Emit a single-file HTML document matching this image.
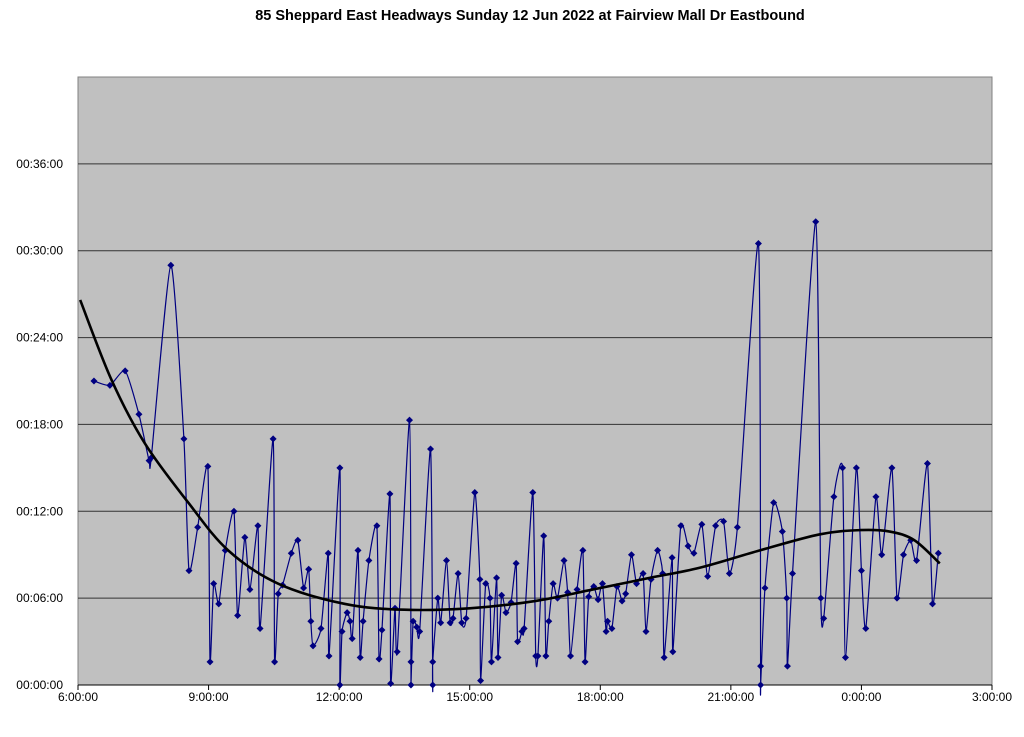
<!DOCTYPE html>
<html><head><meta charset="utf-8"><style>
body{margin:0;background:#fff;font-family:"Liberation Sans",sans-serif}
svg text{font-family:"Liberation Sans",sans-serif}
</style></head><body>
<svg id="c" width="1024" height="732">
<text x="530" y="20" text-anchor="middle" font-size="14.5" font-weight="bold">85 Sheppard East Headways Sunday 12 Jun 2022 at Fairview Mall Dr Eastbound</text>
<rect x="78" y="77" width="914" height="608" fill="#c0c0c0" stroke="#808080"/>
<g id="grid"></g><g id="axes"></g><g id="series"></g>
</svg>
<script>
// minutes after 6:00
const times=[22,44,65,84,98,101,128,146,153,165,179,182,187,194,203,215,220,230,237,248,251,269,271,276,282,294,303,311,318,321,324,335,345,346,361,361,364,371,375,378,386,389,393,401,412,415,419,430,431,437,440,457,459,459,462,467,471,486,489,489,496,500,508,513,517,524,529,535,547,554,555,562,568,570,577,579,584,590,597,604,606,612,615,627,631,634,642,645,649,655,661,670,675,679,688,696,699,704,711,717,723,728,730,736,743,750,755,763,770,779,783,790,799,806,808,819,820,831,841,849,860,868,879,890,898,909,938,941,941,947,959,971,977,978,985,1017,1024,1028,1042,1054,1058,1073,1080,1086,1100,1108,1122,1129,1138,1148,1156,1171,1178,1186];
// headway minutes
const headways=[21.0,20.7,21.7,18.7,15.5,15.7,29.0,17.0,7.9,10.9,15.1,1.6,7.0,5.6,9.3,12.0,4.8,10.2,6.6,11.0,3.9,17.0,1.6,6.3,6.9,9.1,10.0,6.7,8.0,4.4,2.7,3.9,9.1,2.0,15.0,0,3.7,5.0,4.4,3.2,9.3,1.9,4.4,8.6,11.0,1.8,3.8,13.2,0.1,5.3,2.3,18.3,1.6,0,4.4,4.0,3.7,16.3,0,1.6,6.0,4.3,8.6,4.3,4.6,7.7,4.3,4.6,13.3,7.3,0.3,7.0,6.0,1.6,7.4,1.9,6.2,5.0,5.7,8.4,3.0,3.7,3.9,13.3,2.0,2.0,10.3,2.0,4.4,7.0,6.0,8.6,6.4,2.0,6.6,9.3,1.6,6.1,6.8,5.9,7.0,3.7,4.4,3.9,6.8,5.8,6.3,9.0,7.0,7.7,3.7,7.3,9.3,7.7,1.9,8.8,2.3,11.0,9.6,9.1,11.1,7.5,11.0,11.3,7.7,10.9,30.5,1.3,0,6.7,12.6,10.6,6.0,1.3,7.7,32.0,6.0,4.6,13.0,15.0,1.9,15.0,7.9,3.9,13.0,9.0,15.0,6.0,9.0,10.0,8.6,15.3,5.6,9.1];
const trendTimes=[3,46,92,152,207,276,368,450,540,630,710,788,857,940,1022,1078,1119,1153,1188];
const trendValues=[26.6,21.1,16.7,12.6,9.3,7.0,5.6,5.2,5.3,5.8,6.6,7.4,8.1,9.3,10.4,10.7,10.6,10.0,8.4];
const yTicks=[0,6,12,18,24,30,36];
const yTickLabels=["00:00:00","00:06:00","00:12:00","00:18:00","00:24:00","00:30:00","00:36:00"];
const xTicks=[0,180,360,540,720,900,1080,1260];
const xTickLabels=["6:00:00","9:00:00","12:00:00","15:00:00","18:00:00","21:00:00","0:00:00","3:00:00"];

const X0=78,X1=992,Y0=685,Y1=77;
const sx=t=>X0+t/1260*(X1-X0);
const sy=v=>Y0-v/42*(Y0-Y1);
const NS="http://www.w3.org/2000/svg";
function mk(tag,attrs,parent){const e=document.createElementNS(NS,tag);for(const k in attrs)e.setAttribute(k,attrs[k]);parent.appendChild(e);return e;}
const grid=document.getElementById('grid'),axes=document.getElementById('axes'),ser=document.getElementById('series');
yTicks.forEach((v,i)=>{
  if(v>0){const g=mk('line',{x1:X0,x2:X1,y1:sy(v),y2:sy(v),stroke:'#333','stroke-width':1},grid);
  
  }
  const t=mk('text',{x:63,y:sy(v)+4,'text-anchor':'end','font-size':12},axes);t.textContent=yTickLabels[i];
  
  
});
mk('line',{x1:X0,x2:X1,y1:Y0,y2:Y0,stroke:'#000'},axes);
xTicks.forEach((v,i)=>{
  mk('line',{x1:sx(v),x2:sx(v),y1:Y0,y2:Y0+5,stroke:'#000'},axes);
  const t=mk('text',{x:sx(v),y:Y0+16,'text-anchor':'middle','font-size':12},axes);t.textContent=xTickLabels[i];
  
  
});
function smooth(pts,k){let d=`M${pts[0][0]},${pts[0][1]}`;
  for(let i=0;i<pts.length-1;i++){const p0=pts[i-1]||pts[i],p1=pts[i],p2=pts[i+1],p3=pts[i+2]||p2;
    d+=` C${p1[0]+(p2[0]-p0[0])*k},${p1[1]+(p2[1]-p0[1])*k} ${p2[0]-(p3[0]-p1[0])*k},${p2[1]-(p3[1]-p1[1])*k} ${p2[0]},${p2[1]}`;}
  return d;}
const pts=times.map((t,i)=>[sx(t),sy(headways[i])]);
const line=mk('path',{d:smooth(pts,0.1),fill:'none',stroke:'#000080','stroke-width':1.2},ser);


pts.forEach(p=>{
  const m=mk('path',{d:`M${p[0]},${p[1]-3.5}L${p[0]+3.5},${p[1]}L${p[0]},${p[1]+3.5}L${p[0]-3.5},${p[1]}Z`,fill:'#000080'},ser);
  
  
});
const tp=trendTimes.map((t,i)=>[sx(t),sy(trendValues[i])]);
const tr=mk('path',{d:smooth(tp,1/6),fill:'none',stroke:'#000','stroke-width':2.6},ser);


</script>
</body></html>
